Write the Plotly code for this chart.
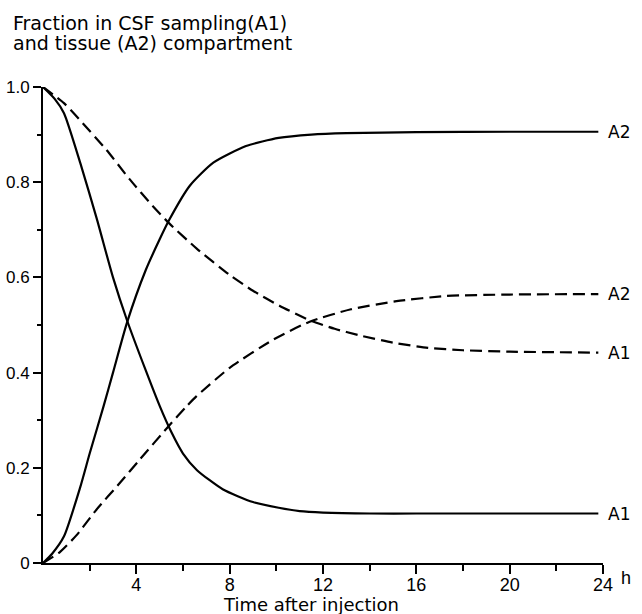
import plotly.graph_objects as go

# ---- data ----
t_a1_solid = [0, 0.5, 0.9, 1.6, 2.3, 3.0, 3.6, 4.4, 5.0, 5.5, 6.0, 6.6, 7.7, 9.0, 10.1, 11.0, 12, 14, 16, 20, 23.8]
v_a1_solid = [1.0, 0.975, 0.945, 0.84, 0.724, 0.60, 0.51, 0.405, 0.33, 0.275, 0.23, 0.195, 0.155, 0.128,
              0.116, 0.109, 0.106, 0.104, 0.104, 0.104, 0.104]

t_a2_solid = [0, 0.4, 0.9, 1.6, 2.0, 2.6, 3.0, 3.6, 4.4, 5.0, 5.4, 6.3, 7.3, 8.7, 10.1, 11.5, 13, 16, 20, 23.8]
v_a2_solid = [0, 0.02, 0.056, 0.16, 0.23, 0.33, 0.40, 0.505, 0.615, 0.68, 0.72, 0.793, 0.841, 0.876, 0.893,
              0.9, 0.903, 0.905, 0.906, 0.906]

t_a1_dash = [0, 0.9, 1.7, 2.7, 3.7, 4.7, 5.4, 6.6, 8.0, 9.0, 10.15, 11.43, 12.5, 13.5, 15, 16.5, 18, 20, 23.8]
v_a1_dash = [1.0, 0.966, 0.924, 0.869, 0.807, 0.75, 0.714, 0.66, 0.605, 0.572, 0.54, 0.51, 0.492, 0.479,
             0.463, 0.452, 0.447, 0.444, 0.442]

t_a2_dash = [0, 0.7, 1.43, 2.29, 3.29, 4.14, 5.43, 6.15, 6.57, 8.0, 9.86, 11.43, 13.2, 15.15, 17.3, 20, 23.8]
v_a2_dash = [0, 0.022, 0.058, 0.112, 0.168, 0.217, 0.29, 0.329, 0.35, 0.41, 0.469, 0.507, 0.533, 0.55,
             0.561, 0.564, 0.565]

x_major = [4, 8, 12, 16, 20, 24]
x_major_text = ["4", "8", "12", "16", "20", "24"]
x_minor = [2, 6, 10, 14, 18, 22]
y_major = [0, 0.2, 0.4, 0.6, 0.8, 1.0]
y_major_text = ["0", "0.2", "0.4", "0.6", "0.8", "1.0"]
y_minor = [0.1, 0.3, 0.5, 0.7, 0.9]

end_labels = [("A2", 0.906), ("A2", 0.565), ("A1", 0.442), ("A1", 0.104)]

title_lines = ["Fraction in CSF sampling(A1)", "and tissue (A2) compartment"]
x_title = "Time after injection"
x_unit = "h"

LABEL_FONT = "DejaVu Sans, sans-serif"
TICK_FONT = "Liberation Sans, Arial, sans-serif"

W, H = 642, 614
ML, MR, MT, MB = 43, 39, 87, 51

fig = go.Figure()


def add(t, v, dash):
    fig.add_trace(go.Scatter(
        x=t, y=v, mode="lines", cliponaxis=False, showlegend=False,
        line=dict(color="black", width=2.2, dash=dash, shape="spline", smoothing=0.6),
        hoverinfo="skip"))


add(t_a1_solid, v_a1_solid, "solid")
add(t_a2_solid, v_a2_solid, "solid")
add(t_a1_dash, v_a1_dash, "12px,6px")
add(t_a2_dash, v_a2_dash, "12px,6px")

plot_w = W - ML - MR
plot_h = H - MT - MB


def px_to_paper_x(px):
    return (px - ML) / plot_w


def px_to_paper_y(py):
    return (H - MB - py) / plot_h


annotations = []
for txt, yv in end_labels:
    annotations.append(dict(x=24, y=yv, xref="x", yref="y", text=txt, showarrow=False,
                            xanchor="left", yanchor="middle", xshift=3,
                            font=dict(family=LABEL_FONT, size=17, color="black")))

annotations.append(dict(x=px_to_paper_x(11), y=px_to_paper_y(10), xref="paper", yref="paper",
                        text=title_lines[0], showarrow=False, xanchor="left", yanchor="top",
                        font=dict(family=LABEL_FONT, size=19, color="black")))
annotations.append(dict(x=px_to_paper_x(11), y=px_to_paper_y(30), xref="paper", yref="paper",
                        text=title_lines[1], showarrow=False, xanchor="left", yanchor="top",
                        font=dict(family=LABEL_FONT, size=19, color="black")))
annotations.append(dict(x=11.5, y=px_to_paper_y(592), xref="x", yref="paper",
                        text=x_title, showarrow=False, xanchor="center", yanchor="top",
                        font=dict(family=LABEL_FONT, size=18, color="black")))
annotations.append(dict(x=24, y=px_to_paper_y(566), xref="x", yref="paper",
                        text=x_unit, showarrow=False, xanchor="left", yanchor="top", xshift=16,
                        font=dict(family=TICK_FONT, size=18, color="black")))

fig.update_layout(
    width=W, height=H,
    margin=dict(l=ML, r=MR, t=MT, b=MB, autoexpand=False),
    paper_bgcolor="white", plot_bgcolor="white",
    showlegend=False,
    annotations=annotations,
    xaxis=dict(range=[0, 24], automargin=False, showgrid=False, zeroline=False, showline=True,
               linecolor="black", linewidth=2,
               ticks="outside", ticklen=9, tickwidth=2, tickcolor="black",
               ticklabelstandoff=-5,
               tickvals=x_major, ticktext=x_major_text,
               tickfont=dict(family=TICK_FONT, size=18, color="black"),
               minor=dict(tickvals=x_minor, ticks="outside", ticklen=6, tickwidth=2, tickcolor="black",
                          showgrid=False)),
    yaxis=dict(range=[0, 1], automargin=False, showgrid=False, zeroline=False, showline=True,
               linecolor="black", linewidth=2,
               ticks="outside", ticklen=8, tickwidth=2, tickcolor="black",
               tickvals=y_major, ticktext=y_major_text,
               tickfont=dict(family=TICK_FONT, size=17, color="black"),
               minor=dict(tickvals=y_minor, ticks="outside", ticklen=4, tickwidth=2, tickcolor="black",
                          showgrid=False)),
)

fig.write_html("out.html",
               config={"displayModeBar": False},
               post_script="document.body.style.margin='0';document.body.style.overflow='hidden';")
